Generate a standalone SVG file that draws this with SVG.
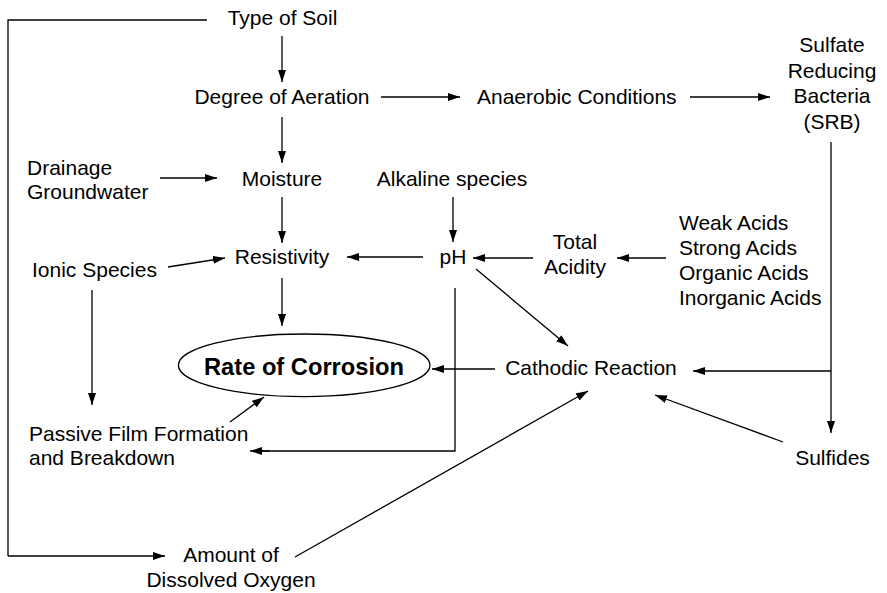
<svg xmlns="http://www.w3.org/2000/svg" width="887" height="593" viewBox="0 0 887 593">
<style>
text{font-family:"Liberation Sans",Arial,sans-serif;font-size:21px;fill:#000}
.c{text-anchor:middle}
.b{font-weight:bold;font-size:23.7px}
.ln{stroke:#000;stroke-width:1.3;fill:none}
.ar{marker-end:url(#ah)}
</style>
<defs>
<marker id="ah" markerUnits="userSpaceOnUse" markerWidth="13" markerHeight="9" refX="12" refY="4" orient="auto">
<path d="M0,0 L12,4 L0,8 z" fill="#000"/>
</marker>
</defs>
<rect width="887" height="593" fill="#fff"/>
<g id="connectors">
<polyline class="ln" points="207,20 8,20 8,556"/>
<line class="ln ar" x1="8" y1="556" x2="165" y2="556"/>
<line class="ln ar" x1="282" y1="36" x2="282" y2="82"/>
<line class="ln ar" x1="381" y1="97" x2="460" y2="97"/>
<line class="ln ar" x1="690" y1="97" x2="770" y2="97"/>
<line class="ln ar" x1="282" y1="117" x2="282" y2="163"/>
<line class="ln ar" x1="160" y1="178" x2="217" y2="178"/>
<line class="ln ar" x1="453" y1="197" x2="453" y2="242"/>
<line class="ln ar" x1="533" y1="258" x2="473" y2="258"/>
<line class="ln ar" x1="666" y1="258" x2="617" y2="258"/>
<line class="ln ar" x1="423" y1="257" x2="347" y2="257"/>
<line class="ln ar" x1="168" y1="267" x2="225" y2="258"/>
<line class="ln ar" x1="282" y1="197" x2="282" y2="243"/>
<line class="ln ar" x1="282" y1="278" x2="282" y2="326"/>
<line class="ln ar" x1="92" y1="290" x2="92" y2="405"/>
<line class="ln ar" x1="495" y1="369" x2="432" y2="369"/>
<line class="ln ar" x1="476" y1="269" x2="568" y2="346"/>
<polyline class="ln" points="455,288 455,451 260,451"/>
<line class="ln ar" x1="270" y1="451" x2="250" y2="451"/>
<line class="ln ar" x1="230" y1="422" x2="264" y2="397"/>
<line class="ln ar" x1="295" y1="557" x2="588" y2="391"/>
<line class="ln ar" x1="783" y1="442" x2="655" y2="395"/>
<line class="ln ar" x1="831" y1="142" x2="831" y2="433"/>
<line class="ln ar" x1="831" y1="371" x2="693" y2="371"/>
</g>
<g id="typeOfSoil"><text class="c" x="282.5" y="25">Type of Soil</text></g>
<g id="degreeOfAeration"><text class="c" x="282" y="104">Degree of Aeration</text></g>
<g id="anaerobic"><text x="477" y="104">Anaerobic Conditions</text></g>
<g id="srb"><text class="c" x="832" y="52">Sulfate</text><text class="c" x="832" y="77.5">Reducing</text><text class="c" x="832" y="103">Bacteria</text><text class="c" x="832" y="128.5">(SRB)</text></g>
<g id="drainage"><text x="27" y="175">Drainage</text><text x="27" y="199">Groundwater</text></g>
<g id="moisture"><text class="c" x="282" y="186">Moisture</text></g>
<g id="alkaline"><text class="c" x="452" y="186">Alkaline species</text></g>
<g id="ionic"><text x="32" y="277">Ionic Species</text></g>
<g id="resistivity"><text class="c" x="282" y="264">Resistivity</text></g>
<g id="ph"><text class="c" x="453" y="264">pH</text></g>
<g id="totalAcidity"><text class="c" x="575" y="249">Total</text><text class="c" x="575" y="274">Acidity</text></g>
<g id="acids"><text x="679" y="230">Weak Acids</text><text x="679" y="255">Strong Acids</text><text x="679" y="280">Organic Acids</text><text x="679" y="305">Inorganic Acids</text></g>
<g id="rateOfCorrosion"><ellipse class="ln" cx="304.2" cy="365.3" rx="125.8" ry="31.3"/><text class="c b" x="304" y="375">Rate of Corrosion</text></g>
<g id="cathodic"><text class="c" x="591" y="375">Cathodic Reaction</text></g>
<g id="passiveFilm"><text x="29" y="441">Passive Film Formation</text><text x="29" y="465">and Breakdown</text></g>
<g id="sulfides"><text class="c" x="832.5" y="465">Sulfides</text></g>
<g id="dissolvedOxygen"><text class="c" x="231" y="562">Amount of</text><text class="c" x="231" y="587">Dissolved Oxygen</text></g>
</svg>
